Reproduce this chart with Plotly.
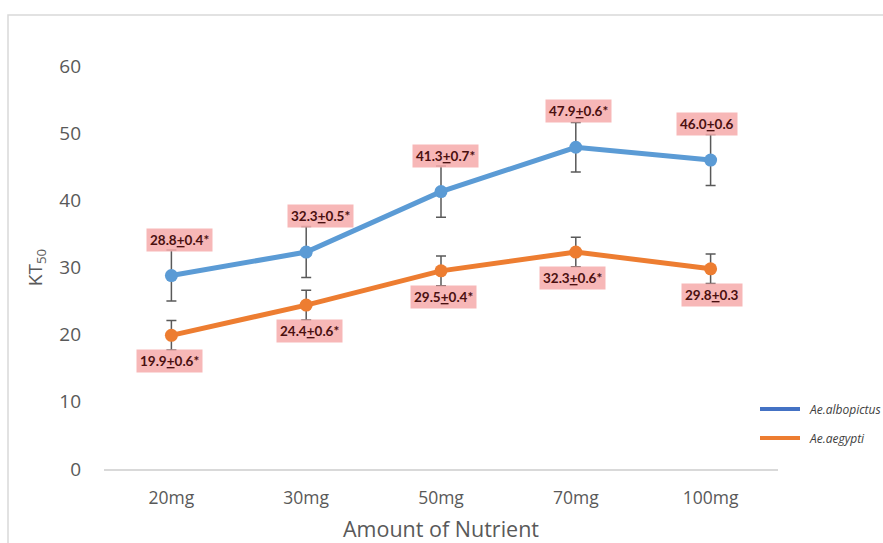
import plotly.graph_objects as go

categories = ["20mg", "30mg", "50mg", "70mg", "100mg"]
series_names = ["Ae.albopictus", "Ae.aegypti"]
albopictus = [28.8, 32.3, 41.3, 47.9, 46.0]
aegypti = [19.9, 24.4, 29.5, 32.3, 29.8]
albopictus_err = [3.8, 3.8, 3.8, 3.7, 3.8]
aegypti_err = [2.2, 2.2, 2.2, 2.2, 2.2]
albopictus_labels = ["28.8<u>+</u>0.4*", "32.3<u>+</u>0.5*", "41.3<u>+</u>0.7*", "47.9<u>+</u>0.6*", "46.0<u>+</u>0.6"]
aegypti_labels = ["19.9<u>+</u>0.6*", "24.4<u>+</u>0.6*", "29.5<u>+</u>0.4*", "32.3<u>+</u>0.6*", "29.8<u>+</u>0.3"]
y_ticks = [0, 10, 20, 30, 40, 50, 60]

BLUE = "#5b9bd5"
ORANGE = "#ed7d31"
LEGEND_COLORS = ["#4472c4", ORANGE]
FONT = "Open Sans"

fig = go.Figure()
fig.add_trace(go.Scatter(
    x=categories, y=albopictus, mode="lines+markers", name=series_names[0],
    line=dict(color=BLUE, width=5), marker=dict(size=13, color=BLUE),
    error_y=dict(type="data", array=albopictus_err, color="#595959", thickness=1.5, width=5),
    showlegend=False))
fig.add_trace(go.Scatter(
    x=categories, y=aegypti, mode="lines+markers", name=series_names[1],
    line=dict(color=ORANGE, width=5), marker=dict(size=13, color=ORANGE),
    error_y=dict(type="data", array=aegypti_err, color="#595959", thickness=1.5, width=5),
    showlegend=False))

blue_dx = [8, 14, 4, 3, -4]
orange_dx = [-2, 3, 2, -3, 1]
for i, c in enumerate(categories):
    fig.add_annotation(x=c, y=albopictus[i], text=albopictus_labels[i], showarrow=False,
                       yshift=36, xshift=blue_dx[i], bgcolor="rgba(246,170,170,0.85)",
                       font=dict(family="Lato", size=13.5, color="#4a1010", weight="bold"),
                       borderpad=3)
    fig.add_annotation(x=c, y=aegypti[i], text=aegypti_labels[i], showarrow=False,
                       yshift=-26, xshift=orange_dx[i], bgcolor="rgba(246,170,170,0.85)",
                       font=dict(family="Lato", size=13.5, color="#4a1010", weight="bold"),
                       borderpad=3)

L, R, T, B = 104, 105, 66, 74
W, H = 883, 543
pw, ph = W - L - R, H - T - B


def px_x(p):
    return (p - L) / pw


def px_y(p):
    return (H - B - p) / ph


fig.add_shape(type="rect", xref="paper", yref="paper",
              x0=px_x(8), x1=px_x(W + 5), y0=px_y(H + 5), y1=px_y(15),
              line=dict(color="#d9d9d9", width=1.5), layer="below")

# manual legend (drawn so it does not push the plot margins)
legend_rows = [409, 438]
for name, col, row in zip(series_names, LEGEND_COLORS, legend_rows):
    fig.add_shape(type="line", xref="paper", yref="paper",
                  x0=px_x(760), x1=px_x(800), y0=px_y(row), y1=px_y(row),
                  line=dict(color=col, width=4))
    fig.add_annotation(xref="paper", yref="paper", x=px_x(807), y=px_y(row),
                       xanchor="left", yanchor="middle", showarrow=False,
                       text="<i>" + name + "</i>",
                       font=dict(family=FONT, size=12, color="#404040"))

fig.update_layout(
    width=W, height=H, margin=dict(l=L, r=R, t=T, b=B), autosize=False, showlegend=False,
    paper_bgcolor="white", plot_bgcolor="white",
    font=dict(family=FONT, color="#595959"),
    xaxis=dict(range=[-0.5, 4.5], showgrid=False, showline=True, linecolor="#d9d9d9", linewidth=1.5,
               tickfont=dict(size=17.5), ticks="", ticklabelstandoff=12, automargin=False,
               title=dict(text="Amount of Nutrient", font=dict(size=21.5), standoff=15)),
    yaxis=dict(range=[0, 60], tickvals=y_ticks, showgrid=False, zeroline=False, showline=False,
               tickfont=dict(size=19), ticklabelstandoff=22, automargin=False,
               title=dict(text="KT<sub>50</sub>", font=dict(size=19), standoff=11)),
)
fig.write_html("out.html", config={"responsive": False, "displayModeBar": False},
               post_script="document.body.style.margin='0';document.body.style.padding='0';document.body.style.overflow='hidden';")
